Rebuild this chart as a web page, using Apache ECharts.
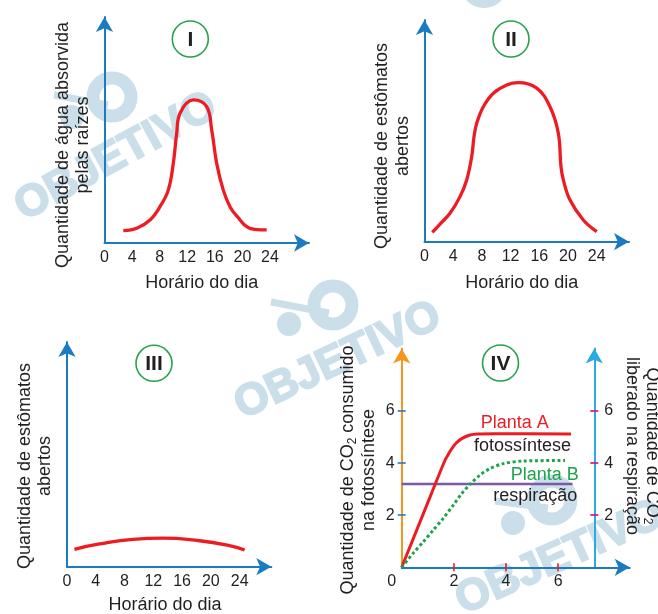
<!DOCTYPE html>
<html><head><meta charset="utf-8">
<script src="https://cdn.jsdelivr.net/npm/echarts@6/dist/echarts.min.js"></script>
<style>html,body{margin:0;padding:0;background:#fff}#c{width:658px;height:614px}</style>
</head><body><div id="c"></div>
<script>
// ---------- data ----------
const hourTicks = [0, 4, 8, 12, 16, 20, 24];
const co2Ticks = [2, 4, 6];
const co2XTicks = [0, 2, 4, 6];
const co2XMinorTicks = [2, 4, 6];

// Panel I: water absorbed by roots vs hour
const hoursI = [2.73, 4.67, 6.6, 8.05, 9.25, 9.98, 10.47, 10.95, 12.88, 14.82, 15.55, 16.27, 17.23, 18.2, 19.2, 21.1, 23.52];
const waterI = [5.3, 6.3, 9.9, 15.6, 22.7, 34.2, 47.1, 55.7, 61.4, 58.5, 48.5, 34.2, 22.7, 15.6, 11.5, 6.3, 5.6];

// Panel II: open stomata vs hour
const hoursII = [1.09, 2.16, 3.55, 4.95, 5.88, 6.58, 6.9, 7.28, 8.2, 9.6, 11.46, 13.07, 15.64, 17.49, 18.65, 19.02, 19.35, 20.28, 22.13, 24.0];
const stomataII = [4.1, 7.7, 12.4, 19.7, 27.0, 37.2, 45.9, 51.8, 59.0, 64.9, 68.5, 69.5, 67.1, 59.0, 47.4, 32.8, 27.0, 18.2, 9.5, 4.4];

// Panel III: open stomata vs hour
const hoursIII = [1.04, 4.52, 9.15, 13.32, 18.43, 22.14, 24.69];
const stomataIII = [7.5, 9.8, 11.8, 12.3, 11.2, 9.4, 7.2];

// Panel IV
const xPlantaA = [0, 0.83, 1.66, 1.8, 1.92, 2.1, 2.3, 2.62, 2.9, 3.5, 6.49];
const yPlantaA = [0, 2.06, 4.11, 4.36, 4.56, 4.78, 4.94, 5.08, 5.12, 5.13, 5.12];
const xPlantaB = [0, 0.44, 0.83, 1.21, 1.59, 1.98, 2.3, 2.62, 3.0, 3.38, 3.89, 4.66, 6.26];
const yPlantaB = [0, 0.54, 0.98, 1.43, 1.88, 2.39, 2.83, 3.19, 3.54, 3.79, 3.98, 4.08, 4.1];
const xResp = [0, 6.55];
const yResp = [3.2, 3.2];

// ---------- styles ----------
const FONT = "'Liberation Sans', Arial, sans-serif";
const TXT = '#231f20';
const BLUE = '#1a7bc0';
const ORANGE = '#f7941d';
const CYAN = '#29abe2';
const RED = '#ed1c24';
const GREEN = '#1ea34a';
const PURPLE = '#7e57a5';
const MAGENTA = '#e6007e';
const CIRC = '#2aa14c';
const WM = '#cadfea';

const zip = (a, b) => a.map((v, i) => [v, b[i]]);
const arrowLine = (color) => ({ show: true, onZero: false, symbol: ['none', 'arrow'], symbolSize: [13, 15], lineStyle: { color: color, width: 2 } });
const noLine = { show: false, onZero: false };

function hourX(grid, max) {
  return {
    type: 'value', gridIndex: grid, min: 0, max: max,
    axisLine: arrowLine(BLUE), axisTick: { show: false }, splitLine: { show: false },
    axisLabel: { customValues: hourTicks, fontSize: 16, color: TXT, fontFamily: FONT, margin: 7 }
  };
}
function plainY(grid, max) {
  return {
    type: 'value', gridIndex: grid, min: 0, max: max,
    axisLine: arrowLine(BLUE), axisTick: { show: false }, splitLine: { show: false }, axisLabel: { show: false }
  };
}

const chart = echarts.init(document.getElementById('c'), null, { renderer: 'canvas' });

function txt(x, y, text, opts) {
  return Object.assign({
    type: 'text', x: x, y: y, z: 10,
    style: Object.assign({ text: text, fontSize: 18, fontFamily: FONT, fill: TXT, align: 'center', verticalAlign: 'middle', lineHeight: 21 }, (opts && opts.style) || {})
  }, opts && opts.rotation !== undefined ? { rotation: opts.rotation } : {});
}
function badge(cx, cy, label) {
  return [
    { type: 'circle', shape: { cx: cx, cy: cy, r: 18 }, style: { fill: '#fff', stroke: CIRC, lineWidth: 1.6 }, z: 10 },
    { type: 'text', x: cx, y: cy + 1, z: 11, style: { text: label, fontSize: 21, fontWeight: 'bold', fontFamily: FONT, fill: TXT, align: 'center', verticalAlign: 'middle' } }
  ];
}
function watermark(cx, cy, rot, ring, dot) {
  return [
    { type: 'text', x: cx, y: cy, rotation: rot, z: -10, style: { text: 'OBJETIVO', fontSize: 44, fontWeight: 'bold', fontFamily: FONT, fill: WM, stroke: WM, lineWidth: 2, align: 'center', verticalAlign: 'middle' } },
    { type: 'circle', shape: { cx: ring[0], cy: ring[1], r: 19 }, style: { fill: 'none', stroke: WM, lineWidth: 13 }, z: -10 },
    { type: 'circle', shape: { cx: dot[0], cy: dot[1], r: 12 }, style: { fill: WM }, z: -10 },
    { type: 'line', shape: { x1: dot[0] - 18, y1: dot[1] - 22, x2: ring[0] - 4, y2: ring[1] + 8 }, style: { stroke: WM, lineWidth: 7 }, z: -10 }
  ];
}

const rich = { s: { fontSize: 12, fontFamily: FONT, fill: TXT, verticalAlign: 'bottom', lineHeight: 12 } };

const graphic = [].concat(
  watermark(116, 157, 0.5, [112, 97], [72, 117]),
  watermark(338, 361, 0.44, [333, 305], [289, 324]),
  watermark(560, 558, 0.42, [552, 500], [513, 523]),
  [{ type: 'circle', shape: { cx: 484, cy: -16, r: 24 }, style: { fill: WM }, z: -10 }],
  badge(190.3, 39, 'I'),
  badge(511, 39, 'II'),
  badge(154, 363.3, 'III'),
  badge(500.5, 363, 'IV'),
  [
    txt(72.7, 145, 'Quantidade de água absorvida\npelas raízes', { rotation: Math.PI / 2, style: { lineHeight: 20 } }),
    txt(392.5, 146, 'Quantidade de estômatos\nabertos', { rotation: Math.PI / 2 }),
    txt(35, 466, 'Quantidade de estômatos\nabertos', { rotation: Math.PI / 2, style: { lineHeight: 20 } }),
    txt(359, 470, 'Quantidade de CO{s|2} consumido\nna fotossíntese', { rotation: Math.PI / 2, style: { rich: rich } }),
    txt(641.7, 446, 'Quantidade de CO{s|2}\nliberado na respiração', { rotation: -Math.PI / 2, style: { rich: rich, lineHeight: 20 } }),
    txt(201.7, 283, 'Horário do dia'),
    txt(521.7, 283, 'Horário do dia'),
    txt(165, 605, 'Horário do dia'),
    txt(480.7, 423.5, 'Planta A', { style: { align: 'left', fill: RED } }),
    txt(474, 446, 'fotossíntese', { style: { align: 'left' } }),
    txt(510.7, 475, 'Planta B', { style: { align: 'left', fill: GREEN } }),
    txt(493.3, 496.5, 'respiração', { style: { align: 'left' } })
  ]
);

const tickStyle = (color, inside) => ({ show: true, inside: inside, length: 4, customValues: co2Ticks, lineStyle: { color: color, width: 1.6 } });

const option = {
  animation: false,
  backgroundColor: '#fff',
  grid: [
    { left: 104.5, top: 17, width: 204.5, height: 226 },
    { left: 424.5, top: 20, width: 204.5, height: 221.7 },
    { left: 67, top: 342, width: 204.3, height: 224.7 },
    { left: 401.7, top: 348.5, width: 228, height: 218.8 }
  ],
  xAxis: [
    hourX(0, 29.66),
    hourX(1, 28.5),
    hourX(2, 28.4),
    {
      type: 'value', gridIndex: 3, min: 0, max: 8.74, position: 'bottom',
      axisLine: arrowLine(BLUE), splitLine: { show: false },
      axisTick: { show: true, inside: false, length: 4, customValues: co2XMinorTicks, lineStyle: { color: RED, width: 1.6 } },
      axisLabel: {
        customValues: co2XTicks, fontSize: 16, color: TXT, fontFamily: FONT, margin: 6,
        formatter: v => v === 0 ? '{z|0}' : String(v),
        rich: { z: { fontSize: 16, color: TXT, fontFamily: FONT, padding: [0, 20, 0, 0] } }
      }
    },
    {
      type: 'value', gridIndex: 3, min: 0, max: 8.74, position: 'bottom',
      axisLine: noLine, splitLine: { show: false }, axisLabel: { show: false },
      axisTick: { show: true, inside: true, length: 4, customValues: co2XMinorTicks, lineStyle: { color: RED, width: 1.6 } }
    }
  ],
  yAxis: [
    plainY(0, 97),
    plainY(1, 96.9),
    plainY(2, 97),
    {
      type: 'value', gridIndex: 3, min: 0, max: 8.4, position: 'left',
      axisLine: arrowLine(ORANGE), splitLine: { show: false },
      axisTick: tickStyle(BLUE, false),
      axisLabel: { customValues: co2Ticks, fontSize: 16, color: TXT, fontFamily: FONT, margin: 7 }
    },
    {
      type: 'value', gridIndex: 3, min: 0, max: 8.4, position: 'right', offset: -35.4,
      axisLine: arrowLine(CYAN), splitLine: { show: false },
      axisTick: tickStyle(MAGENTA, false),
      axisLabel: { customValues: co2Ticks, fontSize: 16, color: TXT, fontFamily: FONT, margin: 10 }
    },
    {
      type: 'value', gridIndex: 3, min: 0, max: 8.4, position: 'left',
      axisLine: noLine, splitLine: { show: false }, axisLabel: { show: false },
      axisTick: tickStyle(BLUE, true)
    },
    {
      type: 'value', gridIndex: 3, min: 0, max: 8.4, position: 'right', offset: -35.4,
      axisLine: noLine, splitLine: { show: false }, axisLabel: { show: false },
      axisTick: tickStyle(MAGENTA, true)
    }
  ],
  series: [
    { type: 'line', xAxisIndex: 0, yAxisIndex: 0, data: zip(hoursI, waterI), smooth: 0.4, showSymbol: false, lineStyle: { color: RED, width: 3.3 }, z: 5 },
    { type: 'line', xAxisIndex: 1, yAxisIndex: 1, data: zip(hoursII, stomataII), smooth: 0.4, showSymbol: false, lineStyle: { color: RED, width: 3.3 }, z: 5 },
    { type: 'line', xAxisIndex: 2, yAxisIndex: 2, data: zip(hoursIII, stomataIII), smooth: 0.5, showSymbol: false, lineStyle: { color: RED, width: 3.3 }, z: 5 },
    { type: 'line', name: 'respiração', xAxisIndex: 3, yAxisIndex: 4, data: zip(xResp, yResp), showSymbol: false, lineStyle: { color: PURPLE, width: 2.6 }, z: 4 },
    { type: 'line', name: 'Planta A', xAxisIndex: 3, yAxisIndex: 3, data: zip(xPlantaA, yPlantaA), smooth: 0.3, showSymbol: false, lineStyle: { color: RED, width: 3 }, z: 5 },
    { type: 'line', name: 'Planta B', xAxisIndex: 3, yAxisIndex: 3, data: zip(xPlantaB, yPlantaB), smooth: 0.3, showSymbol: false, lineStyle: { color: GREEN, width: 3, type: [3, 2.6] }, z: 5 }
  ],
  graphic: graphic
};
chart.setOption(option);
</script>
</body></html>
